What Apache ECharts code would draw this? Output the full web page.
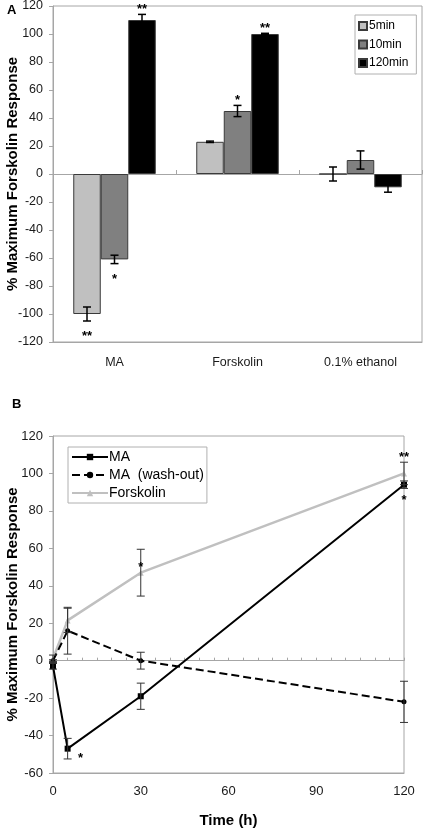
<!DOCTYPE html>
<html>
<head>
<meta charset="utf-8">
<script src="https://cdn.jsdelivr.net/npm/echarts@6/dist/echarts.min.js"></script>
<style>
html,body{margin:0;padding:0;background:#fff;}
#c{width:425px;height:828px;}
</style>
</head>
<body>
<div id="c"></div>
<script>
// ---------- Panel A data ----------
const categoriesA = ['MA', 'Forskolin', '0.1% ethanol'];
const seriesNamesA = ['5min', '10min', '120min'];
const values5min   = [-100, 23, 0];
const values10min  = [-61, 45, 10];
const values120min = [110, 100, -9.5];
const err5min   = [5, 0.5, 5];
const err10min  = [3, 4, 6.5];
const err120min = [4, 0.5, 3.5];
const yTicksA = { min: -120, max: 120, interval: 20 };
// significance marks: category index, series index, text, side
const starsA = [
  [0, 2, '**', 'above'],
  [0, 0, '**', 'below'],
  [0, 1, '*', 'below'],
  [1, 1, '*', 'above'],
  [1, 2, '**', 'above']
];

// ---------- Panel B data ----------
const timesB = [0, 5, 30, 120];
const valuesMA       = [-3, -47, -19, 94];
const valuesWashout  = [0, 16, 0, -22];
const valuesForsk    = [1, 21.5, 47, 100];
const errMA      = [1.5, 5.5, 7, 2];
const errWashout = [0.5, 12.5, 4.5, 11];
const errForsk   = [2, 6.5, 12.5, 6];
const seriesNamesB = ['MA', 'MA  (wash-out)', 'Forskolin'];
const xTicksB = { min: 0, max: 120, interval: 30 };
const yTicksB = { min: -60, max: 120, interval: 20 };
// significance marks: series index, point index, text, side
const starsB = [
  [2, 2, '*', 'on'],
  [2, 3, '**', 'above'],
  [0, 3, '*', 'below'],
  [0, 1, '*', 'right']
];

// ---------- styling ----------
const FONT = 'Liberation Sans, Arial, sans-serif';
const BAR_W = 27.5;
const GRAY_AXIS = '#a6a6a6';
const barColors = ['#c0c0c0', '#808080', '#000000'];

const valsA = [values5min, values10min, values120min];
const errsA = [err5min, err10min, err120min];
const valsB = [valuesMA, valuesWashout, valuesForsk];
const errsB = [errMA, errWashout, errForsk];

const chart = echarts.init(document.getElementById('c'), null, {renderer: 'canvas'});

function errorBarRenderA(params, api) {
  const idx = api.value(0), v = api.value(1), e = api.value(2), k = api.value(3);
  const off = (k - 1) * BAR_W;
  const c0 = api.coord([idx, v + e]);
  const c1 = api.coord([idx, v - e]);
  const x = c0[0] + off;
  const cap = 4;
  const st = {stroke: '#000', lineWidth: 1.5};
  return {type: 'group', children: [
    {type: 'line', shape: {x1: x, y1: c0[1], x2: x, y2: c1[1]}, style: st},
    {type: 'line', shape: {x1: x - cap, y1: c0[1], x2: x + cap, y2: c0[1]}, style: st},
    {type: 'line', shape: {x1: x - cap, y1: c1[1], x2: x + cap, y2: c1[1]}, style: st}
  ]};
}

function errorBarRenderB(params, api) {
  const t = api.value(0), v = api.value(1), e = api.value(2);
  const c0 = api.coord([t, v + e]);
  const c1 = api.coord([t, v - e]);
  const x = c0[0];
  const cap = 4;
  const st = {stroke: '#333', lineWidth: 1};
  return {type: 'group', children: [
    {type: 'line', shape: {x1: x, y1: c0[1], x2: x, y2: c1[1]}, style: st},
    {type: 'line', shape: {x1: x - cap, y1: c0[1], x2: x + cap, y2: c0[1]}, style: st},
    {type: 'line', shape: {x1: x - cap, y1: c1[1], x2: x + cap, y2: c1[1]}, style: st}
  ]};
}

function starRenderA(params, api) {
  const s = starsA[params.dataIndex];
  const cat = s[0], k = s[1], txt = s[2], side = s[3];
  const v = valsA[k][cat], e = errsA[k][cat];
  const end = side === 'above' ? v + e : v - e;
  const c = api.coord([cat, end]);
  const x = c[0] + (k - 1) * BAR_W;
  return {type: 'text', x: x, y: side === 'above' ? c[1] + 1.5 : c[1] + 9,
    style: {text: txt, font: 'bold 13px ' + FONT, fill: '#000', align: 'center',
      verticalAlign: side === 'above' ? 'bottom' : 'top'}};
}

function starRenderB(params, api) {
  const s = starsB[params.dataIndex];
  const si = s[0], pi = s[1], txt = s[2], side = s[3];
  const t = timesB[pi], v = valsB[si][pi], e = errsB[si][pi];
  let x, y, va = 'middle', al = 'center';
  if (side === 'above') { const c = api.coord([t, v + e]); x = c[0]; y = c[1] + 2; va = 'bottom'; }
  else if (side === 'below') { const c = api.coord([t, v - e]); x = c[0]; y = c[1] + 5; va = 'top'; }
  else if (side === 'on') { const c = api.coord([t, v]); x = c[0]; y = c[1] + 1; va = 'bottom'; }
  else { const c = api.coord([t, v]); x = c[0] + 13; y = c[1] + 3; va = 'top'; }
  return {type: 'text', x: x, y: y,
    style: {text: txt, font: 'bold 13px ' + FONT, fill: '#000', align: al, verticalAlign: va}};
}

const labelA = {color: '#1a1a1a', fontFamily: FONT, fontSize: 12.5};
const labelB = {color: '#1a1a1a', fontFamily: FONT, fontSize: 13};
const nameStyle = {fontFamily: FONT, fontWeight: 'bold', fontSize: 15, color: '#000'};

const series = [];
seriesNamesA.forEach(function (name, k) {
  series.push({
    name: name, type: 'bar', xAxisIndex: 0, yAxisIndex: 0,
    data: valsA[k], barWidth: BAR_W, barGap: '0%',
    itemStyle: {color: barColors[k], borderColor: '#3a3a3a', borderWidth: 1},
    emphasis: {disabled: true}, animation: false
  });
});
const errDataA = [];
valsA.forEach(function (arr, k) {
  arr.forEach(function (v, i) { errDataA.push([i, v, errsA[k][i], k]); });
});
series.push({type: 'custom', xAxisIndex: 0, yAxisIndex: 0, renderItem: errorBarRenderA,
  data: errDataA, z: 5, animation: false, silent: true});
series.push({type: 'custom', xAxisIndex: 0, yAxisIndex: 0, renderItem: starRenderA,
  data: starsA.map(function (s) { return [s[0], 0]; }), z: 6, animation: false, silent: true});

const lineStyles = [
  {color: '#000', width: 2, type: 'solid', symbol: 'rect', size: 6},
  {color: '#000', width: 2, type: 'dashed', symbol: 'circle', size: 5},
  {color: '#c0c0c0', width: 2.5, type: 'solid', symbol: 'triangle', size: 6}
];
seriesNamesB.forEach(function (name, k) {
  const ls = lineStyles[k];
  series.push({
    name: name, type: 'line', xAxisIndex: 2, yAxisIndex: 1,
    data: timesB.map(function (t, i) { return [t, valsB[k][i]]; }),
    symbol: ls.symbol, symbolSize: ls.size, showSymbol: true,
    lineStyle: {color: ls.color, width: ls.width, type: ls.type},
    itemStyle: {color: ls.color},
    z: 5 - k, animation: false, emphasis: {disabled: true}
  });
});
const errDataB = [];
valsB.forEach(function (arr, k) {
  arr.forEach(function (v, i) { errDataB.push([timesB[i], v, errsB[k][i]]); });
});
series.push({type: 'custom', xAxisIndex: 2, yAxisIndex: 1, renderItem: errorBarRenderB,
  data: errDataB, z: 8, animation: false, silent: true});
series.push({type: 'custom', xAxisIndex: 2, yAxisIndex: 1, renderItem: starRenderB,
  data: starsB.map(function (s) { return [timesB[s[1]], 0]; }), z: 9, animation: false, silent: true});

const option = {
  animation: false,
  backgroundColor: '#fff',
  textStyle: {fontFamily: FONT},
  title: [
    {text: 'A', left: 7, top: 4, padding: 0, textStyle: {fontFamily: FONT, fontWeight: 'bold', fontSize: 13, color: '#000'}},
    {text: 'B', left: 12, top: 398, padding: 0, textStyle: {fontFamily: FONT, fontWeight: 'bold', fontSize: 13, color: '#000'}}
  ],
  legend: [
    {data: seriesNamesA, left: 355, top: 15, orient: 'vertical', itemWidth: 8, itemHeight: 8, itemGap: 6.5,
      icon: 'rect', borderColor: '#b0b0b0', borderWidth: 1, padding: [5, 8, 5, 3],
      textStyle: {fontFamily: FONT, fontSize: 12, color: '#000', padding: [0, 0, 0, -3]}, selectedMode: false},
    {data: seriesNamesB, left: 68, top: 447, orient: 'vertical', itemWidth: 36, itemHeight: 8, itemGap: 4,
      borderColor: '#b0b0b0', borderWidth: 1, padding: [3, 3, 3, 3],
      textStyle: {fontFamily: FONT, fontSize: 14, color: '#000', padding: [0, 0, 0, -4]}, selectedMode: false}
  ],
  grid: [
    {left: 53, top: 6, width: 369, height: 336, show: true, borderColor: GRAY_AXIS, borderWidth: 1,
      backgroundColor: 'transparent', containLabel: false, outerBoundsMode: 'none'},
    {left: 53, top: 436, width: 351, height: 337, show: true, borderColor: GRAY_AXIS, borderWidth: 1,
      backgroundColor: 'transparent', containLabel: false, outerBoundsMode: 'none'}
  ],
  xAxis: [
    {type: 'category', gridIndex: 0, data: categoriesA, position: 'bottom',
      axisLine: {onZero: false, lineStyle: {color: GRAY_AXIS}}, axisTick: {show: false},
      axisLabel: Object.assign({margin: 14}, labelA), splitLine: {show: false}},
    {type: 'category', gridIndex: 0, data: categoriesA,
      axisLine: {onZero: true, lineStyle: {color: GRAY_AXIS}},
      axisTick: {show: true, length: 4, lineStyle: {color: GRAY_AXIS}},
      axisLabel: {show: false}, splitLine: {show: false}},
    {type: 'value', gridIndex: 1, min: xTicksB.min, max: xTicksB.max, interval: xTicksB.interval, position: 'bottom',
      name: 'Time (h)', nameLocation: 'middle', nameGap: 40, nameMoveOverlap: false, nameTextStyle: nameStyle,
      axisLine: {onZero: false, lineStyle: {color: GRAY_AXIS}}, axisTick: {show: false},
      axisLabel: Object.assign({margin: 12}, labelB), splitLine: {show: false}},
    {type: 'value', gridIndex: 1, min: xTicksB.min, max: xTicksB.max, interval: 5,
      axisLine: {onZero: true, lineStyle: {color: GRAY_AXIS}},
      axisTick: {show: true, length: 3, lineStyle: {color: GRAY_AXIS}},
      axisLabel: {show: false}, splitLine: {show: false}}
  ],
  yAxis: [
    {type: 'value', gridIndex: 0, min: yTicksA.min, max: yTicksA.max, interval: yTicksA.interval,
      name: '% Maximum Forskolin Response', nameLocation: 'middle', nameGap: 33, nameMoveOverlap: false,
      nameTextStyle: nameStyle,
      axisLine: {show: true, lineStyle: {color: GRAY_AXIS}},
      axisTick: {show: true, length: 4, lineStyle: {color: GRAY_AXIS}},
      axisLabel: Object.assign({margin: 10}, labelA), splitLine: {show: false}},
    {type: 'value', gridIndex: 1, min: yTicksB.min, max: yTicksB.max, interval: yTicksB.interval,
      name: '% Maximum Forskolin Response', nameLocation: 'middle', nameGap: 33, nameMoveOverlap: false,
      nameTextStyle: nameStyle,
      axisLine: {show: true, lineStyle: {color: GRAY_AXIS}},
      axisTick: {show: true, length: 4, lineStyle: {color: GRAY_AXIS}},
      axisLabel: Object.assign({margin: 10}, labelB), splitLine: {show: false}}
  ],
  series: series
};
chart.setOption(option);
</script>
</body>
</html>
